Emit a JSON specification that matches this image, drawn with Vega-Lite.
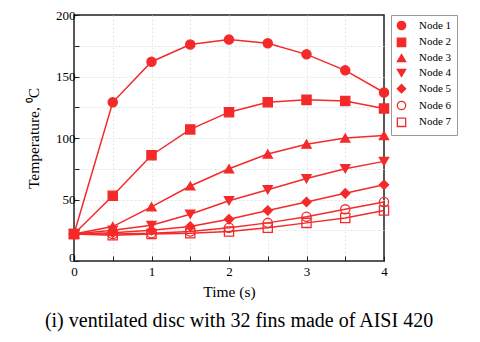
{
  "$schema": "https://vega.github.io/schema/vega-lite/v6.json",
  "width": 310,
  "height": 246,
  "autosize": {"type": "none"},
  "padding": {"left": 74, "top": 15, "right": 96, "bottom": 81},
  "background": "white",
  "config": {
    "font": "Liberation Serif",
    "view": {"stroke": "#222", "strokeWidth": 1.5},
    "legend": {"labelFont": "Liberation Serif"},
    "axis": {
      "labelFont": "Liberation Serif",
      "titleFont": "Liberation Serif",
      "labelColor": "black",
      "titleColor": "black",
      "domain": false,
      "tickColor": "#222",
      "tickSize": -5,
      "tickWidth": 1,
      "gridColor": "#dddddd",
      "gridDash": [2, 2],
      "gridWidth": 0.8,
      "labelFontSize": 13,
      "titleFontSize": 15.5,
      "titleFontWeight": "normal",
      "labelFlush": false
    }
  },
  "data": {
    "values": [
      {"node": "Node 1", "t": 0, "T": 22}, {"node": "Node 1", "t": 0.5, "T": 129}, {"node": "Node 1", "t": 1, "T": 162}, {"node": "Node 1", "t": 1.5, "T": 176}, {"node": "Node 1", "t": 2, "T": 180}, {"node": "Node 1", "t": 2.5, "T": 177}, {"node": "Node 1", "t": 3, "T": 168}, {"node": "Node 1", "t": 3.5, "T": 155}, {"node": "Node 1", "t": 4, "T": 137},
      {"node": "Node 2", "t": 0, "T": 22}, {"node": "Node 2", "t": 0.5, "T": 53}, {"node": "Node 2", "t": 1, "T": 86}, {"node": "Node 2", "t": 1.5, "T": 107}, {"node": "Node 2", "t": 2, "T": 121}, {"node": "Node 2", "t": 2.5, "T": 129}, {"node": "Node 2", "t": 3, "T": 131}, {"node": "Node 2", "t": 3.5, "T": 130}, {"node": "Node 2", "t": 4, "T": 124},
      {"node": "Node 3", "t": 0, "T": 22}, {"node": "Node 3", "t": 0.5, "T": 28}, {"node": "Node 3", "t": 1, "T": 44}, {"node": "Node 3", "t": 1.5, "T": 61}, {"node": "Node 3", "t": 2, "T": 75}, {"node": "Node 3", "t": 2.5, "T": 87}, {"node": "Node 3", "t": 3, "T": 95}, {"node": "Node 3", "t": 3.5, "T": 100}, {"node": "Node 3", "t": 4, "T": 102},
      {"node": "Node 4", "t": 0, "T": 22}, {"node": "Node 4", "t": 0.5, "T": 25}, {"node": "Node 4", "t": 1, "T": 29}, {"node": "Node 4", "t": 1.5, "T": 38}, {"node": "Node 4", "t": 2, "T": 49}, {"node": "Node 4", "t": 2.5, "T": 58}, {"node": "Node 4", "t": 3, "T": 67}, {"node": "Node 4", "t": 3.5, "T": 75}, {"node": "Node 4", "t": 4, "T": 81},
      {"node": "Node 5", "t": 0, "T": 22}, {"node": "Node 5", "t": 0.5, "T": 23}, {"node": "Node 5", "t": 1, "T": 25}, {"node": "Node 5", "t": 1.5, "T": 28}, {"node": "Node 5", "t": 2, "T": 34}, {"node": "Node 5", "t": 2.5, "T": 41}, {"node": "Node 5", "t": 3, "T": 48}, {"node": "Node 5", "t": 3.5, "T": 55}, {"node": "Node 5", "t": 4, "T": 62},
      {"node": "Node 6", "t": 0, "T": 22}, {"node": "Node 6", "t": 0.5, "T": 22}, {"node": "Node 6", "t": 1, "T": 22.5}, {"node": "Node 6", "t": 1.5, "T": 24}, {"node": "Node 6", "t": 2, "T": 27}, {"node": "Node 6", "t": 2.5, "T": 31}, {"node": "Node 6", "t": 3, "T": 36}, {"node": "Node 6", "t": 3.5, "T": 42}, {"node": "Node 6", "t": 4, "T": 48},
      {"node": "Node 7", "t": 0, "T": 22}, {"node": "Node 7", "t": 0.5, "T": 21}, {"node": "Node 7", "t": 1, "T": 22}, {"node": "Node 7", "t": 1.5, "T": 22.5}, {"node": "Node 7", "t": 2, "T": 24}, {"node": "Node 7", "t": 2.5, "T": 27}, {"node": "Node 7", "t": 3, "T": 31}, {"node": "Node 7", "t": 3.5, "T": 35}, {"node": "Node 7", "t": 4, "T": 41}
    ]
  },
  "title": {
    "text": "(i) ventilated disc with 32 fins made of AISI 420",
    "orient": "bottom",
    "font": "Liberation Serif",
    "fontSize": 20,
    "fontWeight": "normal",
    "color": "black",
    "offset": 11,
    "dx": 10
  },
  "encoding": {
    "x": {
      "field": "t", "type": "quantitative", "title": "Time (s)",
      "scale": {"domain": [0, 4], "nice": false},
      "axis": {
        "values": [0, 0.5, 1, 1.5, 2, 2.5, 3, 3.5, 4],
        "labelExpr": "datum.value % 1 === 0 ? format(datum.value, 'd') : ''",
        "labelPadding": 9, "titlePadding": 6,
        "gridOpacity": {"condition": {"test": "datum.value === 0 || datum.value === 4", "value": 0}, "value": 1}
      }
    },
    "y": {
      "field": "T", "type": "quantitative", "title": "Temperature, ⁰C",
      "scale": {"domain": [0, 200], "nice": false},
      "axis": {
        "values": [0, 25, 50, 75, 100, 125, 150, 175, 200],
        "labelExpr": "datum.value % 50 === 0 ? datum.label : ''",
        "labelPadding": 4, "titlePadding": 14,
        "labelOffset": {"condition": {"test": "datum.value === 0", "value": -4}, "value": 0},
        "gridOpacity": {"condition": {"test": "datum.value === 0 || datum.value === 200", "value": 0}, "value": 1}
      }
    }
  },
  "layer": [
    {
      "mark": {"type": "line", "color": "#f42a2a", "strokeWidth": 1.5},
      "encoding": {"detail": {"field": "node"}}
    },
    {
      "mark": {"type": "point", "strokeWidth": 1.3, "size": 85, "opacity": 1},
      "encoding": {
        "shape": {
          "field": "node", "type": "nominal",
          "scale": {"domain": ["Node 1", "Node 2", "Node 3", "Node 4", "Node 5", "Node 6", "Node 7"], "range": ["circle", "square", "triangle-up", "triangle-down", "diamond", "circle", "square"]},
          "legend": {
            "title": null, "orient": "none", "legendX": 317, "legendY": 0,
            "labelFont": "Liberation Serif", "labelFontSize": 11, "labelColor": "black",
            "symbolSize": 70, "rowPadding": 1.8, "strokeColor": "#999", "padding": 5, "labelOffset": 12,
            "symbolStrokeWidth": 1.3
          }
        },
        "fill": {
          "field": "node", "type": "nominal",
          "scale": {"domain": ["Node 1", "Node 2", "Node 3", "Node 4", "Node 5", "Node 6", "Node 7"], "range": ["#f42a2a", "#f42a2a", "#f42a2a", "#f42a2a", "#f42a2a", "transparent", "transparent"]},
          "legend": {
            "title": null, "orient": "none", "legendX": 317, "legendY": 0,
            "labelFont": "Liberation Serif", "labelFontSize": 11, "labelColor": "black",
            "symbolSize": 70, "rowPadding": 1.8, "strokeColor": "#999", "padding": 5, "labelOffset": 12,
            "symbolStrokeWidth": 1.3
          }
        },
        "stroke": {
          "field": "node", "type": "nominal",
          "scale": {"domain": ["Node 1", "Node 2", "Node 3", "Node 4", "Node 5", "Node 6", "Node 7"], "range": ["#f42a2a", "#f42a2a", "#f42a2a", "#f42a2a", "#f42a2a", "#f42a2a", "#f42a2a"]},
          "legend": {
            "title": null, "orient": "none", "legendX": 317, "legendY": 0,
            "labelFont": "Liberation Serif", "labelFontSize": 11, "labelColor": "black",
            "symbolSize": 70, "rowPadding": 1.8, "strokeColor": "#999", "padding": 5, "labelOffset": 12,
            "symbolStrokeWidth": 1.3
          }
        }
      }
    }
  ]
}
